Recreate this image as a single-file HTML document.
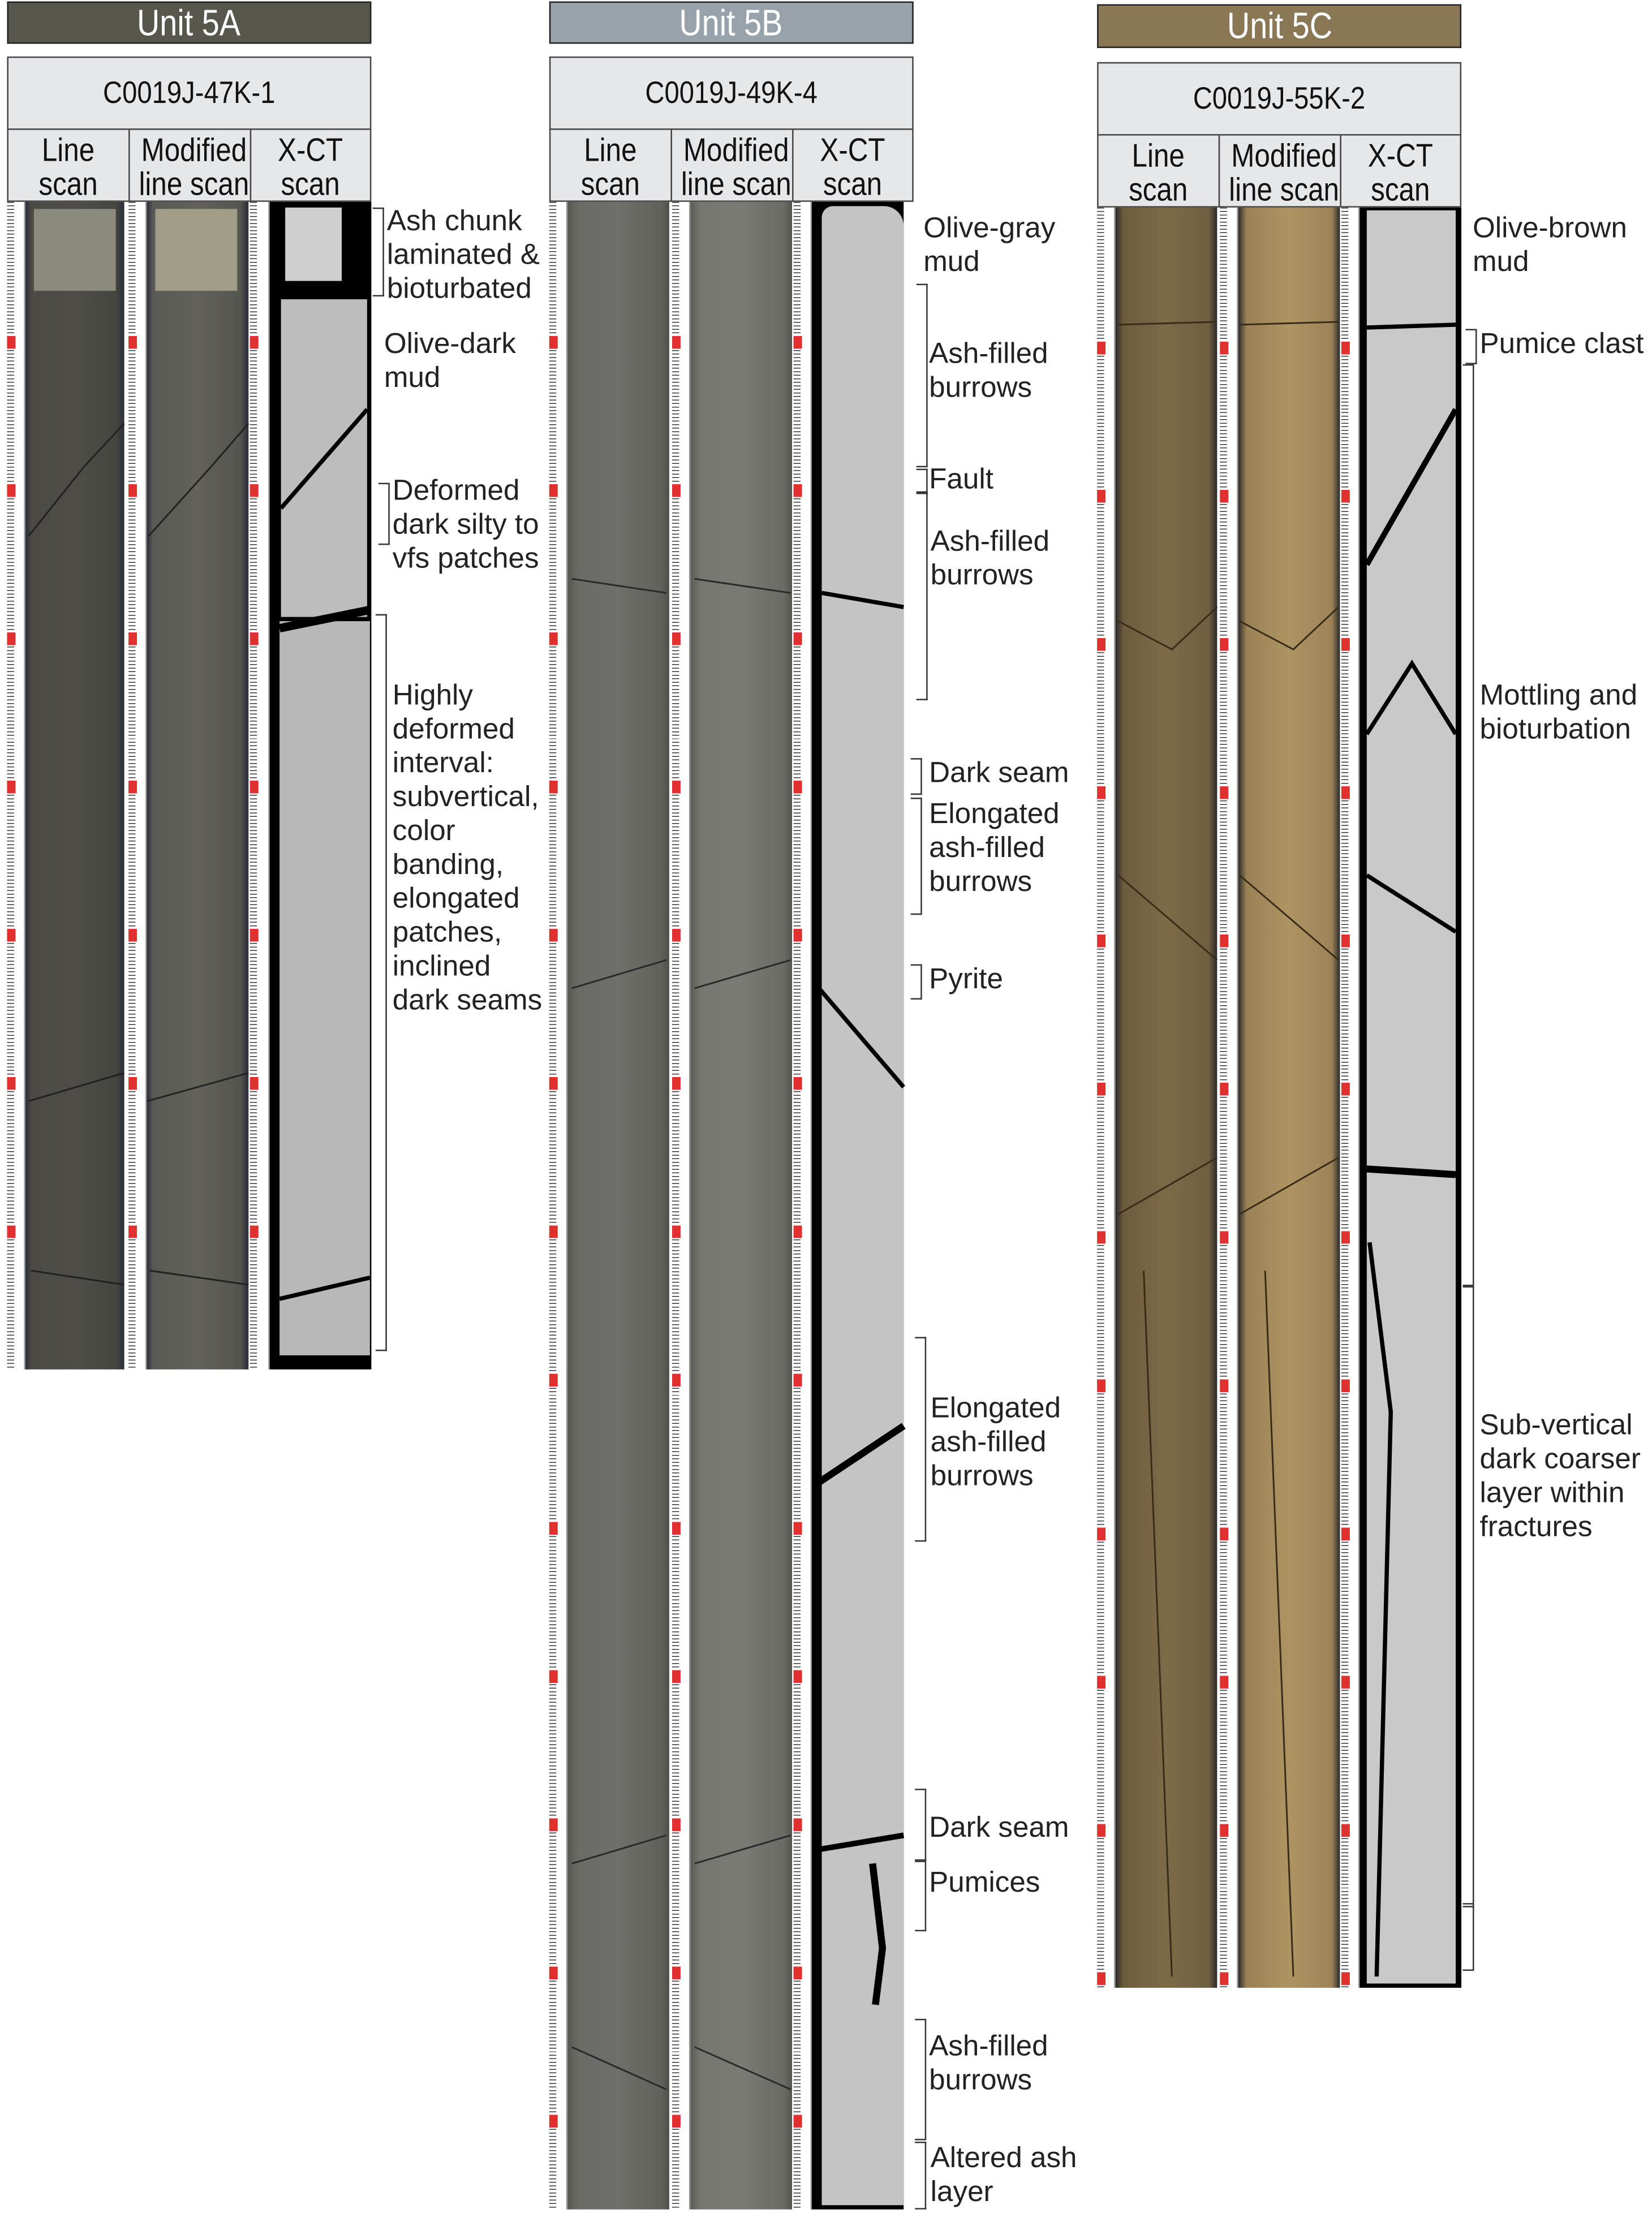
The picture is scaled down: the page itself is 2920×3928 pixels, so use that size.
<!DOCTYPE html>
<html><head><meta charset="utf-8">
<style>
html,body{margin:0;padding:0;background:#fff;}
body{width:2920px;height:3928px;overflow:hidden;position:relative;}
#w{position:absolute;left:0;top:0;width:1170px;height:1574px;transform:scale(2.4957);transform-origin:0 0;font-family:"Liberation Sans",Arial,sans-serif;}
.a{position:absolute;box-sizing:border-box;}
.hdr{color:#fff;font-size:26px;text-align:center;line-height:29px;border:1px solid #222;}
.hdr span,.cond{display:inline-block;transform:scaleX(0.86);}
.box{background:#e6e7e9;border:1px solid #444;}
.cell{background:#e6e7e9;border:1px solid #444;text-align:center;font-size:23px;line-height:24px;color:#111;padding-top:2px;white-space:nowrap;}
.rul{background:#fff repeating-linear-gradient(180deg,#333 0 0.6px,transparent 0.6px 2.5px);background-size:5px 100%;background-repeat:repeat-y;border-right:1px solid #999;}
.rn{background:repeating-linear-gradient(180deg,transparent 0 95px,#e03030 95px 104px,transparent 104px 105px);}
.lab{position:absolute;font-size:20.5px;line-height:24px;color:#222;white-space:nowrap;}
.br{position:absolute;border:1px solid #333;border-left:none;width:7px;}
.id{font-size:22px;color:#111;text-align:center;}
</style></head><body><div id="w">

<!-- ===== Unit 5A ===== -->
<div class="a hdr" style="left:5px;top:1px;width:258px;height:30px;background:#58574e"><span>Unit 5A</span></div>
<div class="a box" style="left:5px;top:40px;width:258px;height:52px;"></div>
<div class="a id" style="left:5px;top:53px;width:258px;"><span class="cond">C0019J-47K-1</span></div>
<div class="a cell" style="left:5px;top:91px;width:87px;height:52px;"><span class="cond">Line<br>scan</span></div>
<div class="a cell" style="left:91px;top:91px;width:87px;height:52px;"><span class="cond">Modified<br>line scan</span></div>
<div class="a cell" style="left:177px;top:91px;width:86px;height:52px;"><span class="cond">X-CT<br>scan</span></div>

<div class="a rul" style="left:5px;top:143px;width:13px;height:827px"></div>
<div class="a rn" style="left:5px;top:143px;width:6px;height:827px"></div>
<div class="a" style="left:18px;top:143px;width:70px;height:827px;background:linear-gradient(90deg,#2a2d3a 0,#4b4a45 6%,#4e4d48 50%,#454540 92%,#2a2d3a 100%);"></div>
<div class="a" style="left:24px;top:148px;width:58px;height:58px;background:#8b8a7c;"></div>
<div class="a rul" style="left:91px;top:143px;width:13px;height:827px"></div>
<div class="a rn" style="left:91px;top:143px;width:6px;height:827px"></div>
<div class="a" style="left:104px;top:143px;width:72px;height:827px;background:linear-gradient(90deg,#2a2d3a 0,#5a5a54 6%,#62625b 50%,#55554f 92%,#2a2d3a 100%);"></div>
<div class="a" style="left:110px;top:148px;width:58px;height:58px;background:#a09c88;"></div>
<div class="a rul" style="left:177px;top:143px;width:14px;height:827px"></div>
<div class="a rn" style="left:177px;top:143px;width:6px;height:827px"></div>
<div class="a" style="left:191px;top:143px;width:72px;height:827px;background:#000"></div>
<div class="a" style="left:202px;top:147px;width:40px;height:52px;background:#cfcfcf"></div>
<div class="a" style="left:199px;top:212px;width:61px;height:225px;background:#bdbdbd"></div>
<div class="a" style="left:198px;top:440px;width:64px;height:520px;background:#b8b8b8"></div>
<svg class="a" style="left:0;top:0" width="270" height="980"><g stroke="#222" stroke-width="1.2" fill="none">
<path d="M20 380 L60 330 L88 300"/><path d="M105 380 L150 330 L176 300"/><path d="M20 780 L88 760"/><path d="M104 780 L176 760"/><path d="M22 900 L88 910"/><path d="M106 900 L176 910"/>
<path d="M198 445 L262 432" stroke="#000" stroke-width="6"/><path d="M199 360 L260 290" stroke="#000" stroke-width="3"/><path d="M198 920 L262 905" stroke="#000" stroke-width="3"/></g></svg>

<div class="br" style="left:264px;top:147px;height:61px"></div>
<div class="lab" style="left:274px;top:145px">Ash chunk<br>laminated &amp;<br>bioturbated</div>
<div class="lab" style="left:272px;top:232px">Olive-dark<br>mud</div>
<div class="br" style="left:268px;top:342px;height:42px"></div>
<div class="lab" style="left:278px;top:336px">Deformed<br>dark silty to<br>vfs patches</div>
<div class="br" style="left:266px;top:435px;height:520px"></div>
<div class="lab" style="left:278px;top:481px">Highly<br>deformed<br>interval:<br>subvertical,<br>color<br>banding,<br>elongated<br>patches,<br>inclined<br>dark seams</div>

<!-- ===== Unit 5B ===== -->
<div class="a hdr" style="left:389px;top:1px;width:258px;height:30px;background:#98a2ab"><span>Unit 5B</span></div>
<div class="a box" style="left:389px;top:40px;width:258px;height:52px;"></div>
<div class="a id" style="left:389px;top:53px;width:258px;"><span class="cond">C0019J-49K-4</span></div>
<div class="a cell" style="left:389px;top:91px;width:87px;height:52px;"><span class="cond">Line<br>scan</span></div>
<div class="a cell" style="left:475px;top:91px;width:87px;height:52px;"><span class="cond">Modified<br>line scan</span></div>
<div class="a cell" style="left:561px;top:91px;width:86px;height:52px;"><span class="cond">X-CT<br>scan</span></div>

<div class="a rul" style="left:389px;top:143px;width:13px;height:1422px"></div>
<div class="a rn" style="left:389px;top:143px;width:6px;height:1422px"></div>
<div class="a" style="left:402px;top:143px;width:72px;height:1422px;background:linear-gradient(90deg,#555650 0,#6a6b66 10%,#6e6f6a 50%,#60615c 92%,#505048 100%);"></div>
<div class="a rul" style="left:476px;top:143px;width:13px;height:1422px"></div>
<div class="a rn" style="left:476px;top:143px;width:6px;height:1422px"></div>
<div class="a" style="left:489px;top:143px;width:72px;height:1422px;background:linear-gradient(90deg,#5a5b55 0,#767770 10%,#7a7b74 50%,#6a6b65 92%,#55554f 100%);"></div>
<div class="a rul" style="left:562px;top:143px;width:13px;height:1422px"></div>
<div class="a rn" style="left:562px;top:143px;width:6px;height:1422px"></div>
<div class="a" style="left:575px;top:143px;width:65px;height:1422px;background:#000"></div>
<div class="a" style="left:582px;top:146px;width:58px;height:1416px;background:#c4c4c4;border-radius:8px 14px 0 0"></div>
<svg class="a" style="left:380px;top:0" width="270" height="1570"><g stroke="#2a2a2a" stroke-width="1.2" fill="none">
<path d="M25 410 L92 420"/><path d="M112 410 L180 420"/><path d="M25 700 L92 680"/><path d="M112 700 L180 680"/><path d="M25 1320 L92 1300"/><path d="M112 1320 L180 1300"/><path d="M25 1450 L92 1480"/><path d="M112 1450 L180 1480"/>
<path d="M200 1050 L230 1030 L260 1010" stroke="#000" stroke-width="5"/><path d="M202 420 L260 430" stroke="#000" stroke-width="3"/><path d="M200 1310 L260 1300" stroke="#000" stroke-width="4"/><path d="M238 1320 L245 1380 L240 1420" stroke="#000" stroke-width="5"/><path d="M200 700 L260 770" stroke="#000" stroke-width="3"/></g></svg>

<div class="lab" style="left:654px;top:150px">Olive-gray<br>mud</div>
<div class="br" style="left:649px;top:201px;height:128px"></div>
<div class="lab" style="left:658px;top:239px">Ash-filled<br>burrows</div>
<div class="br" style="left:649px;top:332px;height:16px"></div>
<div class="lab" style="left:658px;top:328px">Fault</div>
<div class="br" style="left:649px;top:348px;height:146px"></div>
<div class="lab" style="left:659px;top:372px">Ash-filled<br>burrows</div>
<div class="br" style="left:645px;top:537px;height:24px"></div>
<div class="lab" style="left:658px;top:536px">Dark seam</div>
<div class="br" style="left:645px;top:565px;height:81px"></div>
<div class="lab" style="left:658px;top:565px">Elongated<br>ash-filled<br>burrows</div>
<div class="br" style="left:645px;top:683px;height:23px"></div>
<div class="lab" style="left:658px;top:682px">Pyrite</div>
<div class="br" style="left:648px;top:947px;height:143px"></div>
<div class="lab" style="left:659px;top:986px">Elongated<br>ash-filled<br>burrows</div>
<div class="br" style="left:648px;top:1267px;height:49px"></div>
<div class="lab" style="left:658px;top:1283px">Dark seam</div>
<div class="br" style="left:648px;top:1318px;height:48px"></div>
<div class="lab" style="left:658px;top:1322px">Pumices</div>
<div class="br" style="left:648px;top:1430px;height:84px"></div>
<div class="lab" style="left:658px;top:1438px">Ash-filled<br>burrows</div>
<div class="br" style="left:648px;top:1517px;height:46px"></div>
<div class="lab" style="left:659px;top:1517px">Altered ash<br>layer</div>

<!-- ===== Unit 5C ===== -->
<div class="a hdr" style="left:777px;top:3px;width:258px;height:31px;background:#8a7755"><span>Unit 5C</span></div>
<div class="a box" style="left:777px;top:44px;width:258px;height:52px;"></div>
<div class="a id" style="left:777px;top:57px;width:258px;"><span class="cond">C0019J-55K-2</span></div>
<div class="a cell" style="left:777px;top:95px;width:87px;height:52px;"><span class="cond">Line<br>scan</span></div>
<div class="a cell" style="left:863px;top:95px;width:87px;height:52px;"><span class="cond">Modified<br>line scan</span></div>
<div class="a cell" style="left:949px;top:95px;width:86px;height:52px;"><span class="cond">X-CT<br>scan</span></div>

<div class="a rul" style="left:777px;top:147px;width:13px;height:1261px"></div>
<div class="a rn" style="left:777px;top:147px;width:6px;height:1261px"></div>
<div class="a" style="left:790px;top:147px;width:72px;height:1261px;background:linear-gradient(90deg,#2a2a2a 0,#6d5c3e 8%,#7d6a48 50%,#6f5f40 92%,#2a2a2a 100%);"></div>
<div class="a rul" style="left:864px;top:147px;width:13px;height:1261px"></div>
<div class="a rn" style="left:864px;top:147px;width:6px;height:1261px"></div>
<div class="a" style="left:877px;top:147px;width:72px;height:1261px;background:linear-gradient(90deg,#2a2a2a 0,#9a8256 8%,#ad9462 50%,#9c8458 92%,#2a2a2a 100%);"></div>
<div class="a rul" style="left:950px;top:147px;width:13px;height:1261px"></div>
<div class="a rn" style="left:950px;top:147px;width:6px;height:1261px"></div>
<div class="a" style="left:963px;top:147px;width:72px;height:1261px;background:#000"></div>
<div class="a" style="left:968px;top:149px;width:63px;height:1256px;background:#c9c9c9"></div>
<svg class="a" style="left:770px;top:0" width="270" height="1410"><g stroke="#3a2c18" stroke-width="1.2" fill="none">
<path d="M22 230 L92 228"/><path d="M108 230 L178 228"/><path d="M22 440 L60 460 L92 430"/><path d="M108 440 L146 460 L178 430"/><path d="M22 620 L92 680"/><path d="M108 620 L178 680"/><path d="M40 900 L60 1400"/><path d="M126 900 L146 1400"/><path d="M22 860 L92 820"/><path d="M108 860 L178 820"/>
<path d="M198 232 L261 230" stroke="#000" stroke-width="3"/><path d="M198 400 L261 290" stroke="#000" stroke-width="4"/><path d="M198 520 L230 470 L261 520" stroke="#000" stroke-width="3"/><path d="M198 620 L261 660" stroke="#000" stroke-width="3"/><path d="M198 828 L261 832" stroke="#000" stroke-width="5"/><path d="M200 880 L215 1000 L205 1400" stroke="#000" stroke-width="3"/></g></svg>

<div class="lab" style="left:1043px;top:150px">Olive-brown<br>mud</div>
<div class="br" style="left:1038px;top:233px;height:23px"></div>
<div class="lab" style="left:1048px;top:232px">Pumice clast</div>
<div class="br" style="left:1036px;top:258px;height:652px"></div>
<div class="lab" style="left:1048px;top:481px">Mottling and<br>bioturbation</div>
<div class="br" style="left:1036px;top:910px;height:439px"></div>
<div class="lab" style="left:1048px;top:998px">Sub-vertical<br>dark coarser<br>layer within<br>fractures</div>
<div class="br" style="left:1036px;top:1348px;height:46px"></div>

</div></body></html>
